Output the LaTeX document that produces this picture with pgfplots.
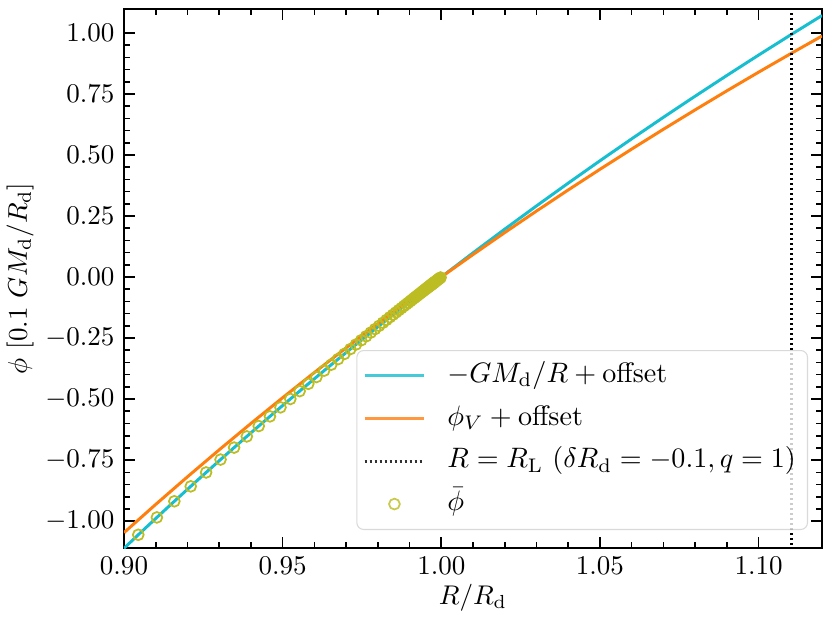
\documentclass[border=0pt]{standalone}
\usepackage{graphicx}
\usepackage{pgfplots}
\pgfplotsset{compat=1.18}
\definecolor{tabcyan}{HTML}{17BECF}
\definecolor{taborange}{HTML}{FF7F0E}
\definecolor{tabolive}{HTML}{BCBD22}
\pgfplotsset{
  linelegend/.style={legend image code/.code={\draw[##1] (0pt,0pt) -- (22pt,0pt);}},
  marklegend/.style={legend image code/.code={\draw[##1] plot coordinates {(11pt,0pt)};}},
}
\newcommand{\legtxt}[1]{\scalebox{1.04}{#1}}
\begin{document}
\begin{tikzpicture}
\begin{axis}[
  scale only axis,
  width=258.26pt, height=199.43pt,
  xmin=0.9, xmax=1.12, ymin=-1.11, ymax=1.098,
  xtick={0.90,0.95,1.00,1.05,1.10},
  ytick={-1,-0.75,-0.5,-0.25,0,0.25,0.5,0.75,1},
  minor x tick num=4, minor y tick num=4,
  tick align=inside,
  major tick length=4pt, minor tick length=2.2pt,
  every tick/.style={line width=0.6pt, black},
  axis line style={line width=0.7pt},
  xticklabel style={/pgf/number format/.cd, fixed, fixed zerofill, precision=2},
  yticklabel style={/pgf/number format/.cd, fixed, fixed zerofill, precision=2},
  scaled ticks=false,
  xlabel={$R/R_{\rm d}$},
  ylabel={$\phi\ [0.1\ GM_{\rm d}/R_{\rm d}]$},
  xlabel style={at={(axis description cs:0.5,-0.0928)}, anchor=center},
  ylabel style={at={(axis description cs:-0.149,0.5)}, anchor=center},
  legend cell align=left,
  legend style={at={(0.98,0.0334)}, anchor=south east,
    draw=black!18, rounded corners=2.5pt, fill=white, fill opacity=0.8,
    draw opacity=0.8, text opacity=1, inner sep=2.3pt, row sep=1.6pt,
    nodes={inner sep=2pt, text height=7.5pt, text depth=2.7pt},
    /tikz/every odd column/.append style={column sep=6pt}},
]
\addplot[tabcyan, line width=1.1pt, linelegend]
coordinates {
(0.90,-1.1111) (0.905,-1.0497) (0.91,-0.9890) (0.915,-0.9290) (0.92,-0.8696)
(0.925,-0.8108) (0.93,-0.7527) (0.935,-0.6952) (0.94,-0.6383) (0.945,-0.5820)
(0.95,-0.5263) (0.955,-0.4712) (0.96,-0.4167) (0.965,-0.3627) (0.97,-0.3093)
(0.975,-0.2564) (0.98,-0.2041) (0.985,-0.1523) (0.99,-0.1010) (0.995,-0.0503)
(1.00,0) (1.01,0.0990) (1.02,0.1961) (1.03,0.2913) (1.04,0.3846) (1.05,0.4762)
(1.06,0.5660) (1.07,0.6542) (1.08,0.7407) (1.09,0.8257) (1.10,0.9091)
(1.11,0.9910) (1.12,1.0714)
};
\addlegendentry{\legtxt{$-GM_{\rm d}/R + {\rm offset}$}}
\addplot[taborange, line width=1.1pt, linelegend]
coordinates {
(0.90,-1.0471) (0.91,-0.9314) (0.92,-0.8184) (0.93,-0.7079) (0.94,-0.5999)
(0.95,-0.4943) (0.96,-0.3911) (0.97,-0.2901) (0.98,-0.1913) (0.99,-0.0946)
(1.00,0) (1.01,0.0920) (1.02,0.1821) (1.03,0.2703) (1.04,0.3566) (1.05,0.4412)
(1.06,0.5240) (1.07,0.6052) (1.08,0.6847) (1.09,0.7627) (1.10,0.8391)
(1.11,0.9140) (1.12,0.9874)
};
\addlegendentry{\legtxt{$\phi_V + {\rm offset}$}}
\addplot[black, line width=1.2pt, dash pattern=on 0.85pt off 1.0pt, linelegend]
coordinates {(1.1105,-1.2) (1.1105,1.2)};
\addlegendentry{\legtxt{$R = R_{\rm L}\ (\delta R_{\rm d} = -0.1, q = 1)$}}
\addplot[only marks, mark=o, mark size=2pt, tabolive, line width=0.65pt, marklegend]
coordinates {
(0.9045,-1.0558) (0.91036,-0.9847) (0.91587,-0.9186) (0.92103,-0.8574)
(0.92588,-0.8005) (0.93043,-0.7477) (0.93470,-0.6986) (0.93871,-0.6529)
(0.94247,-0.6104) (0.94600,-0.5708) (0.94932,-0.5339) (0.95243,-0.4995)
(0.95535,-0.4674) (0.95809,-0.4374) (0.96066,-0.4095) (0.96308,-0.3834)
(0.96534,-0.3590) (0.96747,-0.3362) (0.96947,-0.3149) (0.97134,-0.2951)
(0.97310,-0.2764) (0.97475,-0.2590) (0.97630,-0.2428) (0.97776,-0.2275)
(0.97912,-0.2133) (0.98040,-0.1999) (0.98161,-0.1873) (0.98274,-0.1756)
(0.98380,-0.1647) (0.98479,-0.1544) (0.98572,-0.1449) (0.98660,-0.1358)
(0.98742,-0.1274) (0.98819,-0.1195) (0.98892,-0.1120) (0.98960,-0.1051)
(0.99024,-0.0986) (0.99084,-0.0924) (0.99140,-0.0867) (0.99193,-0.0814)
(0.99242,-0.0764) (0.99289,-0.0716) (0.99332,-0.0672) (0.99373,-0.0631)
(0.99412,-0.0591) (0.99448,-0.0555) (0.99482,-0.0521) (0.99514,-0.0488)
(0.99544,-0.0458) (0.99572,-0.0430) (0.99598,-0.0404) (0.99623,-0.0378)
(0.99646,-0.0355) (0.99668,-0.0333) (0.99688,-0.0313) (0.99707,-0.0294)
(0.99725,-0.0276) (0.99742,-0.0259) (0.99758,-0.0243) (0.99773,-0.0228)
(0.99787,-0.0213) (0.99800,-0.0200) (0.99830,-0.0170) (0.99860,-0.0140)
(0.99890,-0.0110) (0.99920,-0.0080) (0.99950,-0.0050) (0.99980,-0.0020)
};
\addlegendentry{\legtxt{$\bar{\phi}$}}
\end{axis}
\pgfresetboundingbox
\path[use as bounding box] ([xshift=-45.88pt,yshift=-27.75pt]current axis.south west) rectangle ([xshift=2.96pt,yshift=3.33pt]current axis.north east);
\end{tikzpicture}
\end{document}
